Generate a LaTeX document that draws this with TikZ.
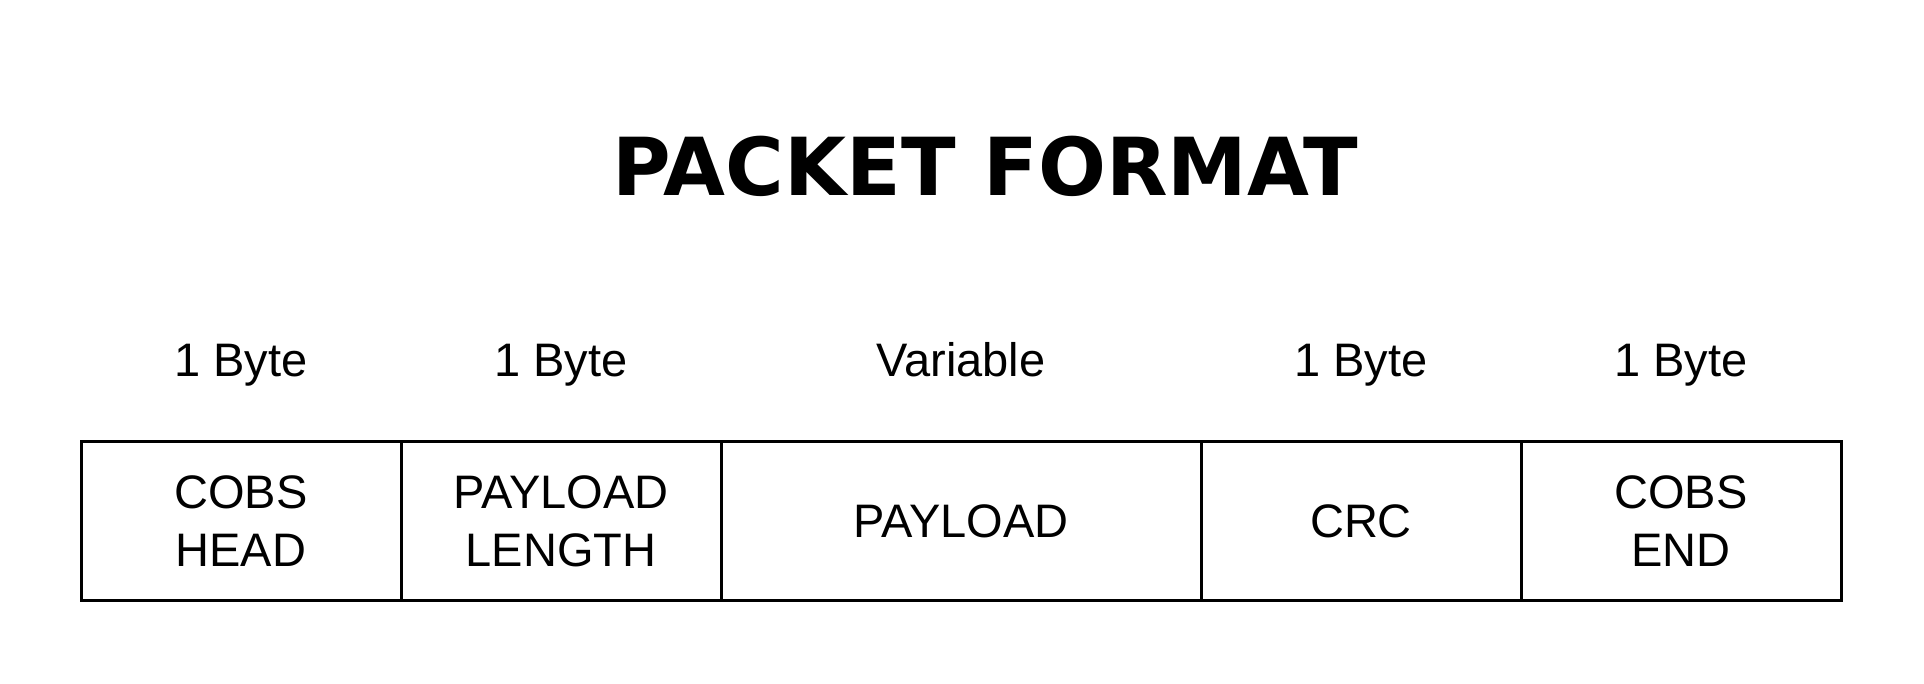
\documentclass[tikz,border=0pt]{standalone}
\usepackage{fontspec}
\setmainfont{Liberation Sans}
\newfontfamily\titlefont{DejaVu Sans}
\usetikzlibrary{positioning}

\tikzset{
  field/.style={draw, line width=3pt, minimum height=159pt, inner sep=0pt,
    align=center, font=\fontsize{47}{58}\selectfont},
  sizelabel/.style={anchor=base, inner sep=0pt, font=\fontsize{47}{58}\selectfont},
  headline/.style={anchor=base, inner sep=0pt, font=\titlefont\bfseries\fontsize{80}{90}\selectfont}
}

\begin{document}
\begin{tikzpicture}[x=1pt, y=-1pt]
\useasboundingbox (0,0) rectangle (1924,684);
\node[headline] (title) at (985,196) {PACKET FORMAT};
% packet fields
\node[field, minimum width=320pt] (head) at (241,521) {COBS\\HEAD};
\node[field, minimum width=320pt] (len) at (561,521) {PAYLOAD\\LENGTH};
\node[field, minimum width=480pt] (payload) at (961,521) {PAYLOAD};
\node[field, minimum width=320pt] (crc) at (1361,521) {CRC};
\node[field, minimum width=320pt] (tail) at (1681,521) {COBS\\END};
% sizes
\node[sizelabel] (headsize) at (241,377) {1 Byte};
\node[sizelabel] (lensize) at (561,377) {1 Byte};
\node[sizelabel] (payloadsize) at (961,377) {Variable};
\node[sizelabel] (crcsize) at (1361,377) {1 Byte};
\node[sizelabel] (tailsize) at (1681,377) {1 Byte};
\end{tikzpicture}
\end{document}
